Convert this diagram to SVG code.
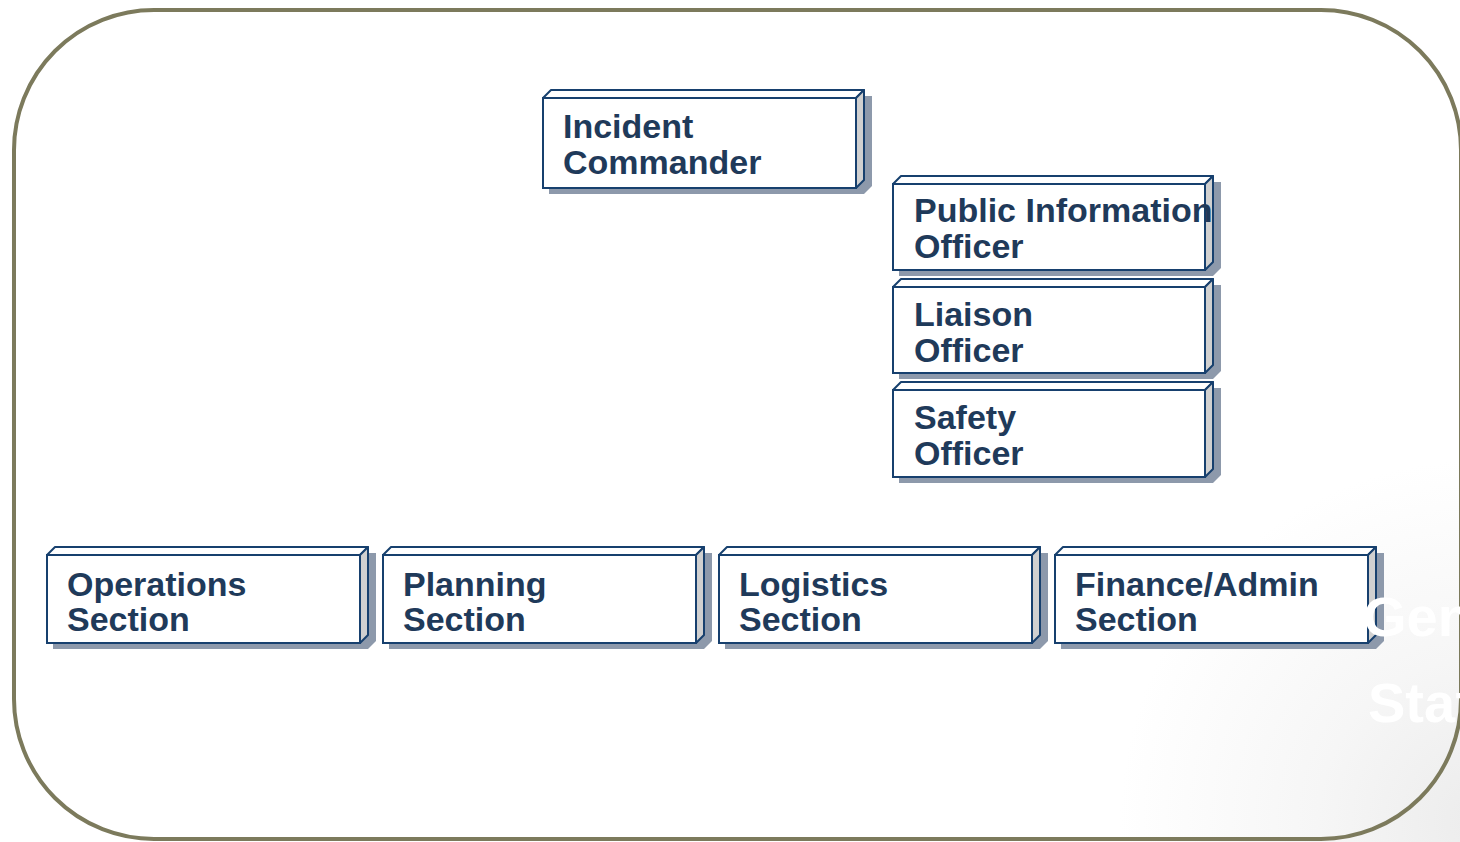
<svg xmlns="http://www.w3.org/2000/svg" width="1460" height="842" viewBox="0 0 1460 842">
  <defs>
    <radialGradient id="bg" cx="1480" cy="820" r="360" gradientUnits="userSpaceOnUse">
      <stop offset="0" stop-color="#ececec"/>
      <stop offset="0.45" stop-color="#f6f6f6"/>
      <stop offset="1" stop-color="#ffffff"/>
    </radialGradient>
  </defs>
  <style>
    .shadow { fill: #8d99ab; }
    .top { fill: #ffffff; stroke: #17406e; stroke-width: 2; stroke-linejoin: round; }
    .side { fill: #d0d0d0; stroke: #17406e; stroke-width: 2; stroke-linejoin: round; }
    .front { fill: #ffffff; stroke: #17406e; stroke-width: 2; }
    .label { font-family: "Liberation Sans", Arial, sans-serif; font-weight: bold; font-size: 34px; fill: #1f3a5a; }
    .ghost { font-family: "Liberation Sans", Arial, sans-serif; font-weight: bold; font-size: 56px; fill: #ffffff; }
  </style>
  <rect x="0" y="0" width="1460" height="842" fill="#ffffff"/>
  <rect x="0" y="0" width="1460" height="842" fill="url(#bg)"/>
  <rect x="14" y="10" width="1447" height="829" rx="140" ry="140" fill="none" stroke="#7c7a5c" stroke-width="4"/>

  <g id="connectors"></g>

  <g id="incident-commander" transform="translate(543,98)">
    <polygon class="shadow" points="6,6 14,-2 329,-2 329,88 321,96 6,96"/>
    <polygon class="top" points="0,0 8,-8 321,-8 313,0"/>
    <polygon class="side" points="313,0 321,-8 321,82 313,90"/>
    <rect class="front" x="0" y="0" width="313" height="90"/>
    <text class="label" x="20" y="40">Incident</text>
    <text class="label" x="20" y="76">Commander</text>
  </g>

  <g id="public-information-officer" transform="translate(893,184)">
    <polygon class="shadow" points="6,6 14,-2 328,-2 328,84 320,92 6,92"/>
    <polygon class="top" points="0,0 8,-8 320,-8 312,0"/>
    <polygon class="side" points="312,0 320,-8 320,78 312,86"/>
    <rect class="front" x="0" y="0" width="312" height="86"/>
    <text class="label" x="21" y="38">Public Information</text>
    <text class="label" x="21" y="74">Officer</text>
  </g>

  <g id="liaison-officer" transform="translate(893,287)">
    <polygon class="shadow" points="6,6 14,-2 328,-2 328,84 320,92 6,92"/>
    <polygon class="top" points="0,0 8,-8 320,-8 312,0"/>
    <polygon class="side" points="312,0 320,-8 320,78 312,86"/>
    <rect class="front" x="0" y="0" width="312" height="86"/>
    <text class="label" x="21" y="39">Liaison</text>
    <text class="label" x="21" y="75">Officer</text>
  </g>

  <g id="safety-officer" transform="translate(893,390)">
    <polygon class="shadow" points="6,6 14,-2 328,-2 328,85 320,93 6,93"/>
    <polygon class="top" points="0,0 8,-8 320,-8 312,0"/>
    <polygon class="side" points="312,0 320,-8 320,79 312,87"/>
    <rect class="front" x="0" y="0" width="312" height="87"/>
    <text class="label" x="21" y="39">Safety</text>
    <text class="label" x="21" y="75">Officer</text>
  </g>

  <g id="operations-section" transform="translate(47,555)">
    <polygon class="shadow" points="6,6 14,-2 329,-2 329,86 321,94 6,94"/>
    <polygon class="top" points="0,0 8,-8 321,-8 313,0"/>
    <polygon class="side" points="313,0 321,-8 321,80 313,88"/>
    <rect class="front" x="0" y="0" width="313" height="88"/>
    <text class="label" x="20" y="41">Operations</text>
    <text class="label" x="20" y="76">Section</text>
  </g>

  <g id="planning-section" transform="translate(383,555)">
    <polygon class="shadow" points="6,6 14,-2 329,-2 329,86 321,94 6,94"/>
    <polygon class="top" points="0,0 8,-8 321,-8 313,0"/>
    <polygon class="side" points="313,0 321,-8 321,80 313,88"/>
    <rect class="front" x="0" y="0" width="313" height="88"/>
    <text class="label" x="20" y="41">Planning</text>
    <text class="label" x="20" y="76">Section</text>
  </g>

  <g id="logistics-section" transform="translate(719,555)">
    <polygon class="shadow" points="6,6 14,-2 329,-2 329,86 321,94 6,94"/>
    <polygon class="top" points="0,0 8,-8 321,-8 313,0"/>
    <polygon class="side" points="313,0 321,-8 321,80 313,88"/>
    <rect class="front" x="0" y="0" width="313" height="88"/>
    <text class="label" x="20" y="41">Logistics</text>
    <text class="label" x="20" y="76">Section</text>
  </g>

  <g id="finance-admin-section" transform="translate(1055,555)">
    <polygon class="shadow" points="6,6 14,-2 329,-2 329,86 321,94 6,94"/>
    <polygon class="top" points="0,0 8,-8 321,-8 313,0"/>
    <polygon class="side" points="313,0 321,-8 321,80 313,88"/>
    <rect class="front" x="0" y="0" width="313" height="88"/>
    <text class="label" x="20" y="41">Finance/Admin</text>
    <text class="label" x="20" y="76">Section</text>
  </g>

  <g id="ghost-title">
    <text class="ghost" x="1363" y="636">General</text>
    <text class="ghost" x="1368" y="722">Staff</text>
  </g>
</svg>
